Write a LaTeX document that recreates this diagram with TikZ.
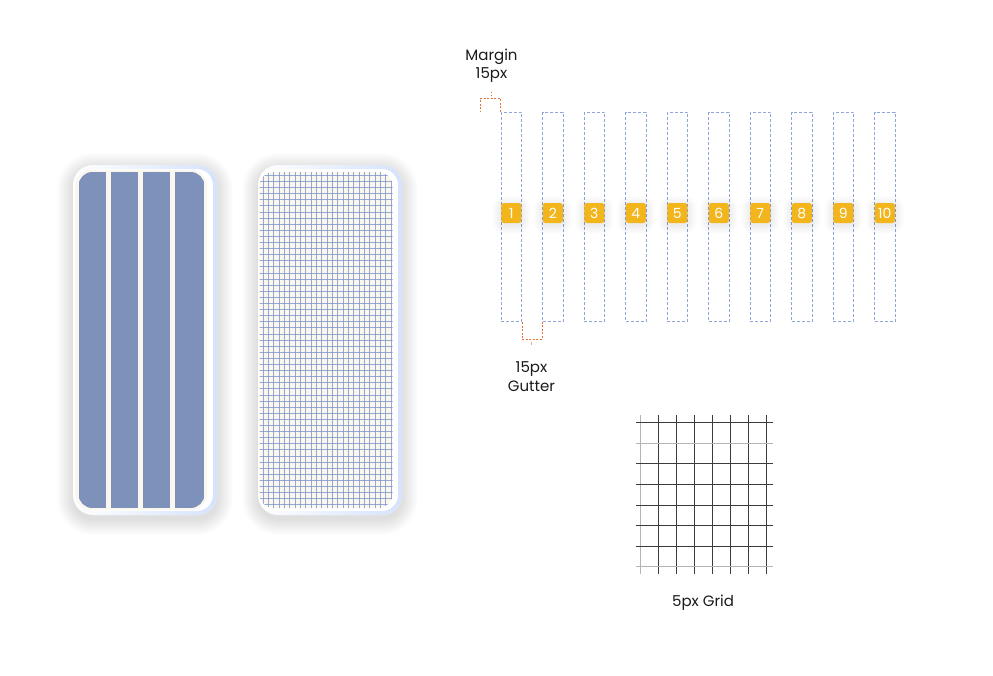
\documentclass[tikz,border=0pt]{standalone}
\usepackage{fontspec}
\setmainfont{Poppins}
\usetikzlibrary{fadings}
\definecolor{colblue}{HTML}{7D91BB}
\definecolor{cream}{HTML}{FAF7EF}
\definecolor{gridblue}{HTML}{7F95CB}
\definecolor{cardedge}{HTML}{D6E3FC}
\definecolor{dashblue}{HTML}{8FA6D8}
\definecolor{badgeyel}{HTML}{F2B51C}
\definecolor{brorange}{HTML}{E8703A}
\definecolor{txt}{HTML}{1A1A1A}
\definecolor{gdark}{HTML}{3C3C3C}
\definecolor{glight}{HTML}{B4B4B4}
\tikzset{
  colbox/.style={draw=dashblue, dash pattern=on 3pt off 2pt, line width=0.8pt,
    minimum width=20.5pt, minimum height=209.5pt, inner sep=0pt},
  badge/.style={fill=badgeyel, rounded corners=2.5pt, minimum width=20pt, minimum height=20pt,
    inner sep=0pt, text=white, font=\fontsize{14}{15}\selectfont},
  bracket/.style={draw=brorange, dash pattern=on 2pt off 1.5pt, line width=0.9pt},
  lbl/.style={text=txt, align=center, inner sep=0pt, font=\fontsize{15}{18.5}\selectfont},
  halo/.style={fill=black, opacity=#1},
}
% soft shadow: x1 y1 x2 y2 radius layers opacity dy
\newcommand\softshade[8]{%
  \foreach \k in {1,...,#6} {%
    \pgfmathsetmacro\rr{#5+\k}%
    \fill[halo=#7, rounded corners=\rr pt] (#1-\k,#2-\k+#8) rectangle (#3+\k,#4+\k+#8);
  }%
}
\begin{document}
\begin{tikzpicture}[x=1pt,y=-1pt]
\useasboundingbox (0,0) rectangle (993,675);
\fill[white] (0,0) rectangle (993,675);

% ---- left phone: columns
\softshade{73}{165}{217}{515}{20}{16}{0.007}{4}
\fill[white, rounded corners=20pt] (73,165) rectangle (217,515);
\draw[cardedge, line width=4pt, rounded corners=18pt, path fading=west] (75,167) rectangle (215,513);
\fill[cream, rounded corners=16pt] (75,170) rectangle (207,510);
\begin{scope}
  \clip[rounded corners=14pt] (78.5,172) rectangle (204.5,508);
  \fill[colblue] (78.5,172) rectangle (105.7,508);
  \fill[colblue] (110.7,172) rectangle (138,508);
  \fill[colblue] (143.3,172) rectangle (170.2,508);
  \fill[colblue] (175.3,172) rectangle (204.5,508);
\end{scope}

% ---- middle phone: grid
\softshade{258}{165}{402}{515}{20}{16}{0.007}{4}
\fill[white, rounded corners=20pt] (258,165) rectangle (402,515);
\draw[cardedge, line width=4pt, rounded corners=18pt, path fading=west] (260,167) rectangle (400,513);
\begin{scope}
  \clip[rounded corners=14pt] (259.5,172) rectangle (392.5,508);
  \fill[cream] (259.5,172) rectangle (392.5,508);
  \foreach \i in {0,...,25} \draw[gridblue, opacity=0.8, line width=0.5pt] (257.6+\i*5.33,170) -- ++(0,340);
  \foreach \j in {0,...,54} \draw[gridblue, opacity=0.8, line width=0.5pt] (255,175.2+\j*6.1) -- ++(150,0);
\end{scope}

% ---- 10 columns
\foreach \i in {1,...,10} {
  \node[colbox] (c\i) at ({511.3+(\i-1)*41.5},217) {};
}
\foreach \i in {1,...,10} {
  \pgfmathsetmacro\bx{511.3+(\i-1)*41.5}
  \softshade{\bx-10}{203}{\bx+10}{223}{3}{9}{0.006}{2}
}
\foreach \i in {1,...,10} {
  \node[badge] (b\i) at ({511.3+(\i-1)*41.5},213) {\i};
}

% margin annotation
\draw[bracket] (c1.north west) -- ++(0,-13) -| ++(-20.5,13);
\draw[brorange, line width=0.8pt, dash pattern=on 1.5pt off 1.5pt] (491,96) -- (491,91);
\node[lbl] (margin) at (491.5,65.5) {Margin\\15px};

% gutter annotation
\draw[bracket] (c1.south east) -- ++(0,17) -| (c2.south west);
\draw[brorange!60, line width=0.8pt] (531.7,341.5) -- (531.7,344.5);
\node[lbl] (gutter) at (531.5,376.5) {15px\\Gutter};

% ---- 5px grid
\foreach \x/\c in {640/glight,658/gdark,676/gdark,694/gdark,712/gdark,730/gdark,748/gdark,766/gdark}
  \draw[\c, line width=0.9pt] (\x,415) -- (\x,573.5);
\foreach \y/\c in {422.7/gdark,443.3/glight,463.9/gdark,484.5/gdark,505.1/gdark,525.7/gdark,546.3/gdark,566.9/glight}
  \draw[\c, line width=0.9pt] (636,\y) -- (773,\y);
\node[lbl] (grid) at (703,603) {5px Grid};
\end{tikzpicture}
\end{document}
